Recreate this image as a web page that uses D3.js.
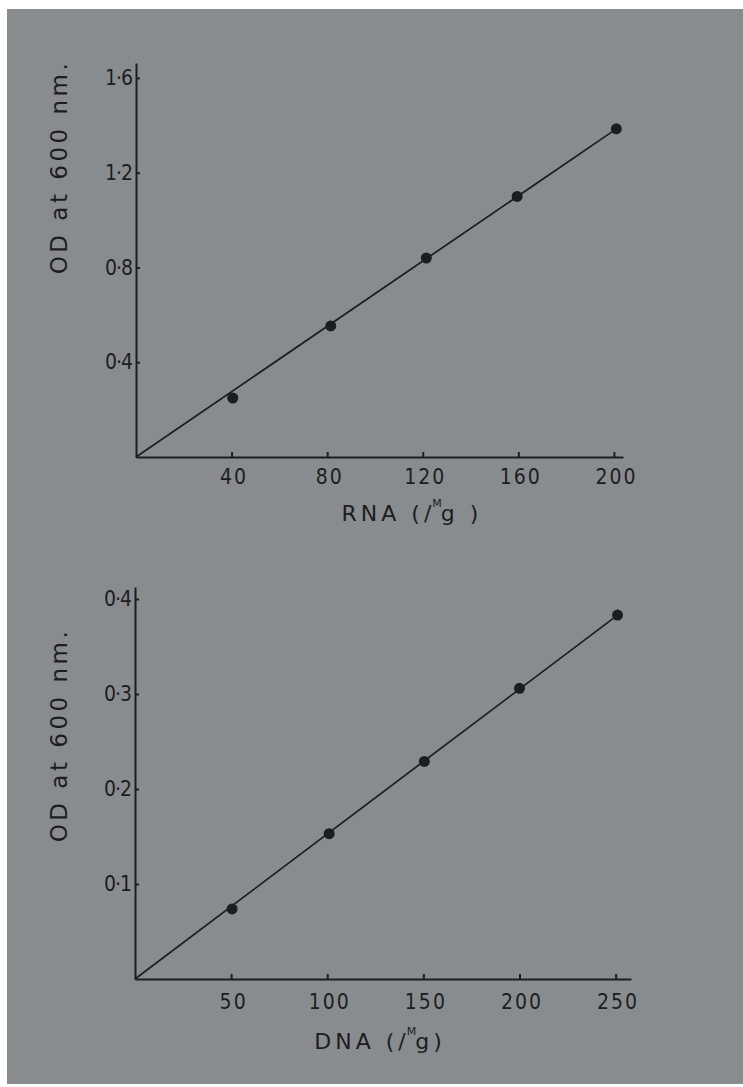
<!DOCTYPE html>
<html>
<head>
<meta charset="utf-8">
<script src="https://cdn.jsdelivr.net/npm/d3@7"></script>
<style>
  html, body { margin: 0; padding: 0; background: #ffffff; }
  svg text { font-family: "DejaVu Sans", sans-serif; fill: #1c1d1f; }
</style>
</head>
<body>
<script>
// RNA panel (top)
var rnaX = [40.5, 81.5, 121.5, 159.5, 201];
var rnaY = [0.249, 0.553, 0.84, 1.10, 1.385];
var rnaFitX = [0, 201];
var rnaFitY = [0, 1.385];
var rnaXTicks = [40, 80, 120, 160, 200];
var rnaYTicks = [0.4, 0.8, 1.2, 1.6];
var rnaYLabels = ["0·4", "0·8", "1·2", "1·6"];

// DNA panel (bottom)
var dnaX = [50.5, 101, 150.5, 200, 251];
var dnaY = [0.0737, 0.153, 0.229, 0.306, 0.383];
var dnaFitX = [0, 251];
var dnaFitY = [0, 0.383];
var dnaXTicks = [50, 100, 150, 200, 250];
var dnaYTicks = [0.1, 0.2, 0.3, 0.4];
var dnaYLabels = ["0·1", "0·2", "0·3", "0·4"];

var W = 743, H = 1087;
var ink = "#1c1d1f";

var svg = d3.select("body").append("svg")
    .attr("width", W)
    .attr("height", H);

// the photographed sheet
svg.append("rect")
    .attr("x", 7).attr("y", 9)
    .attr("width", W - 7).attr("height", H - 12)
    .attr("fill", "#898c8e");

function panel(opt) {
    var x = d3.scaleLinear().domain(opt.xDomain).range(opt.xRange);
    var y = d3.scaleLinear().domain(opt.yDomain).range(opt.yRange);
    var g = svg.append("g");

    var xAxis = g.append("g")
        .attr("transform", "translate(0," + opt.yRange[0] + ")")
        .call(d3.axisBottom(x).tickValues(opt.xTicks).tickSizeInner(-5).tickSizeOuter(0).tickPadding(0));
    xAxis.selectAll("text")
        .attr("y", opt.xLabelDy)
        .attr("dy", null)
        .attr("dx", 2)
        .style("font-size", "21px")
        .style("font-stretch", "condensed")
        .style("letter-spacing", "2px");

    var yAxis = g.append("g")
        .attr("transform", "translate(" + opt.xRange[0] + ",0)")
        .call(d3.axisLeft(y).tickValues(opt.yTicks).tickSizeInner(-4).tickSizeOuter(0).tickPadding(4)
            .tickFormat(function(d, i){ return opt.yLabels[i]; }));
    yAxis.selectAll("text")
        .style("font-size", "21px")
        .style("font-stretch", "condensed")
        .style("letter-spacing", "-1px");

    g.selectAll(".domain").attr("stroke", ink).attr("stroke-width", 2);
    g.selectAll(".tick line").attr("stroke", ink).attr("stroke-width", 2);
    g.selectAll(".tick text").style("fill", ink);

    // fitted line
    var fit = opt.fitX.map(function(v, i){ return [v, opt.fitY[i]]; });
    g.append("path")
        .datum(fit)
        .attr("fill", "none")
        .attr("stroke", ink)
        .attr("stroke-width", 1.7)
        .attr("d", d3.line().x(function(d){ return x(d[0]); }).y(function(d){ return y(d[1]); }));

    // measured points
    g.selectAll("circle.pt")
        .data(opt.px)
        .enter().append("circle")
        .attr("class", "pt")
        .attr("cx", function(d){ return x(d); })
        .attr("cy", function(d, i){ return y(opt.py[i]); })
        .attr("r", 5.5)
        .attr("fill", ink);

    // y title
    g.append("text")
        .attr("transform", "translate(" + opt.yTitlePos[0] + "," + opt.yTitlePos[1] + ") rotate(-90)")
        .attr("text-anchor", "middle")
        .style("font-size", "23px")
        .style("letter-spacing", "3.5px")
        .text("OD at 600 nm.");

    // x title with the little raised M of the hand-lettered µg
    var t = g.append("text")
        .attr("x", opt.xTitlePos[0])
        .attr("y", opt.xTitlePos[1])
        .attr("text-anchor", "middle")
        .style("font-size", "22px")
        .style("letter-spacing", "4px");
    t.append("tspan").text(opt.xName + " (/");
    t.append("tspan").attr("dy", -14).attr("dx", -3).style("font-size", "11px").style("letter-spacing", "1px").text("M");
    t.append("tspan").attr("dy", 14).attr("dx", -2).text(opt.xTail);
}

panel({
    xDomain: [0, 203.8], xRange: [136, 623],
    yDomain: [0, 1.663], yRange: [457, 63],
    xTicks: rnaXTicks, yTicks: rnaYTicks, yLabels: rnaYLabels,
    px: rnaX, py: rnaY, fitX: rnaFitX, fitY: rnaFitY,
    xLabelDy: 27,
    yTitlePos: [67, 167],
    xTitlePos: [412, 521],
    xName: "RNA", xTail: "g )"
});

panel({
    xDomain: [0, 258], xRange: [135, 631],
    yDomain: [0, 0.4126], yRange: [979, 587],
    xTicks: dnaXTicks, yTicks: dnaYTicks, yLabels: dnaYLabels,
    px: dnaX, py: dnaY, fitX: dnaFitX, fitY: dnaFitY,
    xLabelDy: 30,
    yTitlePos: [67, 735],
    xTitlePos: [380, 1049],
    xName: "DNA", xTail: "g)"
});
</script>
</body>
</html>
